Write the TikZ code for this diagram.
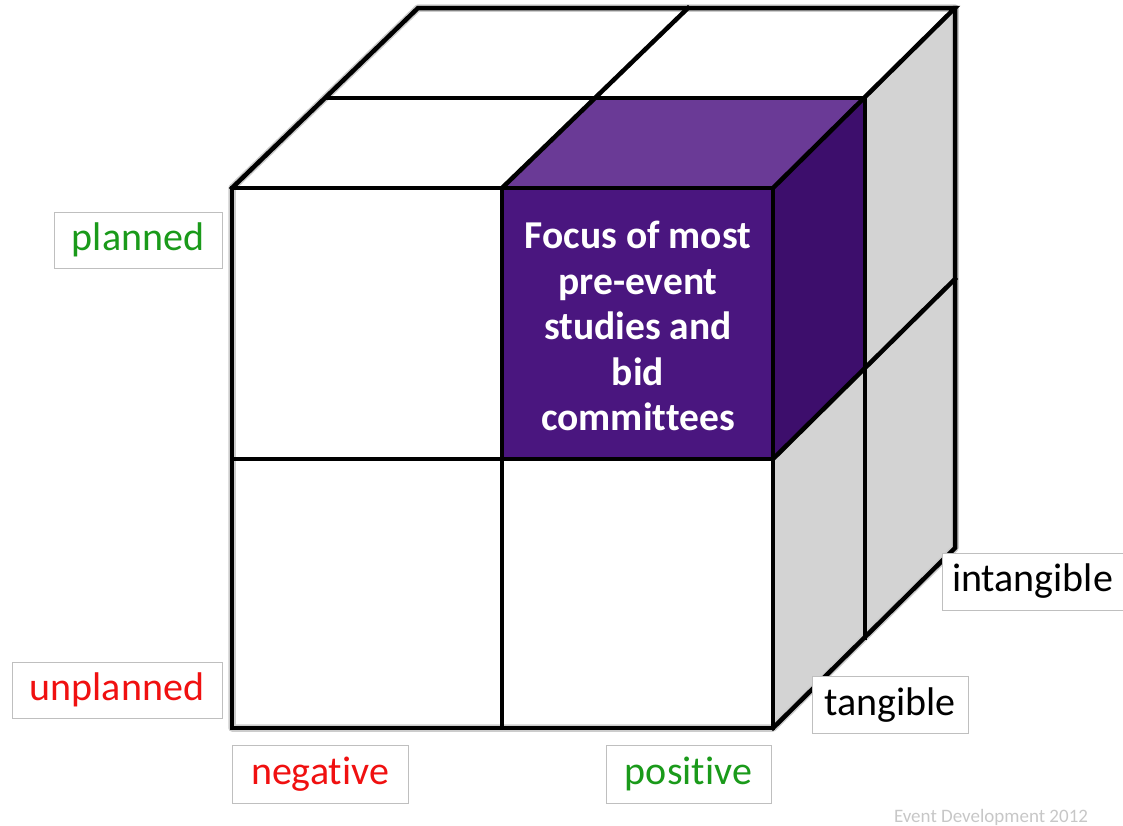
\documentclass[tikz,border=0pt]{standalone}
\usepackage{fontspec}
\setmainfont[Ligatures=CommonOff]{Carlito}
\definecolor{pfront}{HTML}{4A167F}
\definecolor{ptop}{HTML}{6A3A96}
\definecolor{pright}{HTML}{3D0E6C}
\definecolor{sidegray}{HTML}{D3D3D3}
\definecolor{lblgreen}{HTML}{1A9A1A}
\definecolor{lblred}{HTML}{F01010}
\tikzset{
  edge/.style={line width=4.5pt, line join=miter, line cap=rect},
  lbl/.style={draw=black!25, line width=0.8pt, fill=white, inner sep=0pt,
    font=\fontsize{40}{44}\selectfont, anchor=center},
}
\begin{document}
\begin{tikzpicture}[x=1pt,y=-1pt]
\useasboundingbox (0,0) rectangle (1123,825);
% faces
\fill[sidegray] (773,188) -- (955,8) -- (955,548) -- (773,728) -- cycle;
\fill[white] (232,188) -- (418,8) -- (955,8) -- (773,188) -- cycle;
\fill[white] (232,188) rectangle (773,728);
\fill[pfront] (502,188) rectangle (773,459);
\fill[ptop] (502,188) -- (595,98) -- (865,98) -- (773,188) -- cycle;
\fill[pright] (773,188) -- (865,98) -- (865,369) -- (773,459) -- cycle;
% soft halo
\draw[black!20, line width=7.5pt, line join=round]
  (232,728) -- (232,188) -- (418,8) -- (955,8) -- (955,548) -- (773,728) -- cycle;
% edges
\draw[edge] (232,188) rectangle (773,728);
\draw[edge] (502,188) -- (502,728);
\draw[edge] (232,459) -- (773,459);
\draw[edge] (232,188) -- (418,8) -- (955,8) -- (773,188);
\draw[edge] (326,98) -- (865,98);
\draw[edge] (502,188) -- (688,8);
\draw[edge] (955,8) -- (955,548) -- (773,728);
\draw[edge] (865,98) -- (865,638);
\draw[edge] (773,459) -- (955,279);
% focus text
\node (focus) at (638,326) [text=white, align=center,
  font=\bfseries\fontsize{39.5}{45.5}\selectfont]
  {Focus of most\\pre-event\\studies and\\bid\\committees};
% labels
\node (planned) [lbl, minimum width=168pt, minimum height=56pt, text=lblgreen] at (138,240) {planned};
\node (unplanned) [lbl, minimum width=210pt, minimum height=56pt, text=lblred] at (117,690) {unplanned};
\node (negative) [lbl, minimum width=176pt, minimum height=58pt, text=lblred] at (320,774) {negative};
\node (positive) [lbl, minimum width=165pt, minimum height=58pt, text=lblgreen] at (688.5,774) {positive};
\node (tangible) [lbl, minimum width=156pt, minimum height=57pt, text=black] at (890,705) {tangible};
\node (intangible) [lbl, minimum width=181pt, minimum height=57pt, text=black] at (1032.5,581.5) {intangible};
% watermark
\node (wm) at (991,817) [text=black!22, font=\fontsize{19}{20}\selectfont] {Event Development 2012};
\end{tikzpicture}
\end{document}
